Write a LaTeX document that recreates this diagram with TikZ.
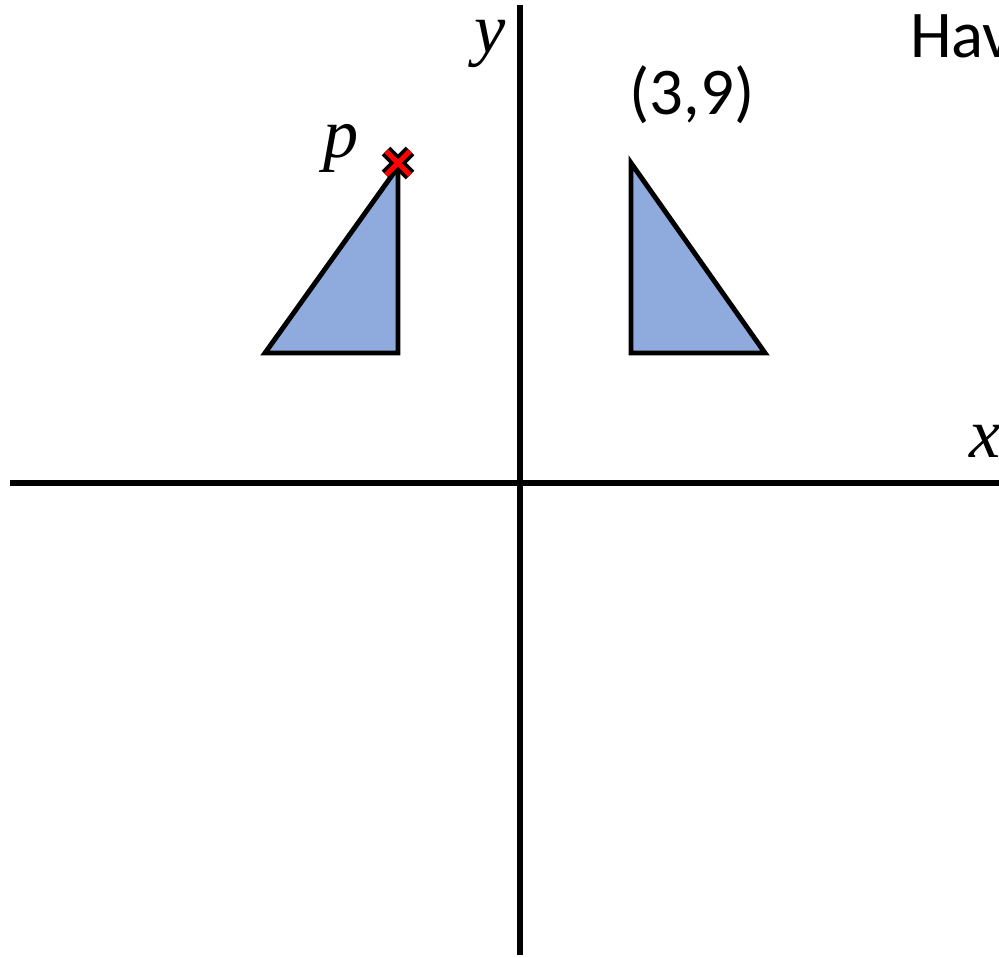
\documentclass[tikz,border=0pt]{standalone}
\usepackage{fontspec}
\setmainfont{Carlito}
\newfontfamily\varfont{Liberation Serif}
\usepackage{xcolor}
\usetikzlibrary{positioning,calc}
\definecolor{trifill}{RGB}{143,170,220}
\definecolor{crossred}{RGB}{255,0,0}

\begin{document}
\begin{tikzpicture}[x=0.02cm,y=0.02cm,
  tri/.style={draw=black,fill=trifill,line width=2.8pt,line join=miter},
  lbl/.style={font=\fontsize{38}{42}\selectfont,inner sep=0pt},
  var/.style={font=\varfont\itshape\fontsize{40}{44}\selectfont,inner sep=0pt}]
\useasboundingbox (0,0) rectangle (999,957);

% ------------- axes -------------
\coordinate (xl) at (10,474);
\coordinate (xr) at (999,474);
\coordinate (yb) at (520,2);
\coordinate (yt) at (520,952);
\draw[line width=3.5pt] (xl) -- (xr);
\draw[line width=3.5pt] (yb) -- (yt);
\node[var] (xlab) at (985,516) {x};
\node[var] (ylab) at (490,913) {y};

% ------------- left triangle -------------
\coordinate (l1) at (265,604);
\coordinate (l2) at (398,604);
\coordinate (l3) at (398,790);
\draw[tri] (l1) -- (l2) -- (l3) -- cycle;

% ------------- right triangle -------------
\coordinate (r1) at (631,794);
\coordinate (r2) at (631,604);
\coordinate (r3) at (765,604);
\draw[tri] (r1) -- (r2) -- (r3) -- cycle;

% ------------- point p -------------
\coordinate (pt) at (398,794);
\draw[line width=7pt,line cap=square] ($(pt)+(-12,-12)$) -- ($(pt)+(12,12)$);
\draw[line width=7pt,line cap=square] ($(pt)+(-12,12)$) -- ($(pt)+(12,-12)$);
\draw[crossred,line width=3pt,line cap=square] ($(pt)+(-12,-12)$) -- ($(pt)+(12,12)$);
\draw[crossred,line width=3pt,line cap=square] ($(pt)+(-12,12)$) -- ($(pt)+(12,-12)$);
\node[var] (plab) at (341,809) {p};

% ------------- labels -------------
\node[lbl] (pcoord) at (692,862) {(3,9)};
\node[lbl,anchor=west] (hav) at (910,921) {Hav};

\end{tikzpicture}
\end{document}
